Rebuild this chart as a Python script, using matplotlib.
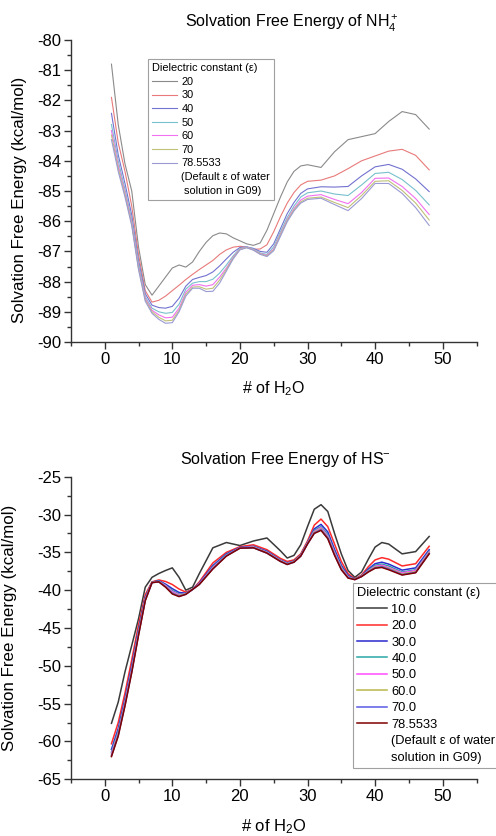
import matplotlib
matplotlib.use('Agg')
import matplotlib.pyplot as plt
from matplotlib.lines import Line2D
from matplotlib.ticker import MultipleLocator

plt.rcParams['font.family'] = ['Liberation Sans', 'DejaVu Sans']
plt.rcParams['mathtext.fontset'] = 'custom'
plt.rcParams['mathtext.rm'] = 'Liberation Sans'
plt.rcParams['mathtext.it'] = 'Liberation Sans:italic'
plt.rcParams['mathtext.bf'] = 'Liberation Sans:bold'
plt.rcParams['axes.unicode_minus'] = False

# ---------------- Top chart: NH4+ ----------------
nh4_x = [1, 2, 3, 4, 5, 6, 7, 8, 9, 10, 11, 12, 13, 14, 15, 16, 17, 18, 19, 20,
         21, 22, 23, 24, 25, 26, 27, 28, 29, 30, 32, 34, 36, 38, 40, 42, 44, 46, 48]
nh4_labels = ['20', '30', '40', '50', '60', '70', '78.5533']
nh4_note = ['(Default \u03b5 of water', ' solution in G09)']
nh4_e20 = [-80.8, -82.8, -84.1, -85.0, -86.85, -88.1, -88.45, -88.15, -87.85, -87.55,
           -87.45, -87.52, -87.35, -87.0, -86.7, -86.48, -86.39, -86.42, -86.55, -86.65,
           -86.75, -86.8, -86.72, -86.3, -85.75, -85.2, -84.7, -84.35, -84.17, -84.13,
           -84.22, -83.7, -83.3, -83.2, -83.1, -82.7, -82.37, -82.47, -82.95]
nh4_e30 = [-81.9, -83.4, -84.35, -85.5, -87.1, -88.3, -88.68, -88.62, -88.48, -88.3,
           -88.12, -87.93, -87.76, -87.6, -87.45, -87.3, -87.1, -86.95, -86.86, -86.83,
           -86.86, -86.93, -86.92, -86.78, -86.35, -85.85, -85.4, -85.05, -84.8, -84.68,
           -84.64, -84.5, -84.26, -84.0, -83.84, -83.68, -83.62, -83.82, -84.3]
nh4_e40 = [-82.43, -83.8, -84.75, -85.8, -87.3, -88.4, -88.78, -88.86, -88.88, -88.82,
           -88.55, -88.15, -87.93, -87.86, -87.8, -87.68, -87.48, -87.25, -87.03, -86.87,
           -86.85, -86.9, -87.0, -87.03, -86.75, -86.25, -85.75, -85.38, -85.08, -84.93,
           -84.86, -84.87, -84.85, -84.5, -84.2, -84.12, -84.28, -84.6, -85.02]
nh4_e50 = [-82.8, -84.0, -84.95, -85.95, -87.4, -88.5, -88.88, -89.0, -89.05, -89.02,
           -88.75, -88.25, -88.05, -88.0, -88.0, -87.92, -87.72, -87.45, -87.15, -86.9,
           -86.85, -86.92, -87.05, -87.1, -86.85, -86.35, -85.88, -85.5, -85.2, -85.06,
           -85.0, -85.1, -85.15, -84.8, -84.42, -84.38, -84.62, -84.98, -85.46]
nh4_e60 = [-83.0, -84.15, -85.05, -86.05, -87.5, -88.55, -88.95, -89.1, -89.2, -89.18,
           -88.88, -88.35, -88.12, -88.1, -88.15, -88.1, -87.85, -87.55, -87.2, -86.92,
           -86.86, -86.94, -87.07, -87.13, -86.92, -86.42, -85.95, -85.58, -85.3, -85.17,
           -85.12, -85.28, -85.42, -85.05, -84.58, -84.57, -84.85, -85.25, -85.78]
nh4_e70 = [-83.15, -84.25, -85.12, -86.1, -87.55, -88.6, -89.0, -89.18, -89.3, -89.28,
           -88.95, -88.42, -88.18, -88.17, -88.25, -88.22, -87.95, -87.6, -87.22, -86.93,
           -86.87, -86.95, -87.08, -87.15, -86.95, -86.45, -85.98, -85.62, -85.36, -85.24,
           -85.2, -85.38, -85.55, -85.15, -84.68, -84.66, -84.98, -85.4, -85.96]
nh4_e785 = [-83.3, -84.35, -85.2, -86.15, -87.6, -88.65, -89.05, -89.25, -89.38, -89.36,
            -89.0, -88.48, -88.22, -88.22, -88.33, -88.32, -88.05, -87.65, -87.25, -86.95,
            -86.88, -86.96, -87.1, -87.17, -86.98, -86.5, -86.02, -85.66, -85.4, -85.28,
            -85.24, -85.45, -85.65, -85.25, -84.75, -84.75, -85.08, -85.55, -86.14]
nh4_series = [nh4_e20, nh4_e30, nh4_e40, nh4_e50, nh4_e60, nh4_e70, nh4_e785]
nh4_colors = ['#8a8a8a', '#e87a7a', '#7272d0', '#78c0cc', '#f070f0', '#c0c07a', '#9a9ad4']

# ---------------- Bottom chart: HS- ----------------
hs_x = [1, 2, 3, 4, 5, 6, 7, 8, 9, 10, 11, 12, 13, 14, 16, 18, 20, 22, 24, 26,
        27, 28, 29, 30, 31, 32, 33, 34, 35, 36, 37, 38, 39, 40, 41, 42, 44, 46, 48]
hs_labels = ['10.0', '20.0', '30.0', '40.0', '50.0', '60.0', '70.0', '78.5533']
hs_note = ['(Default \u03b5 of water', 'solution in G09)']
hs_e10 = [-57.6, -54.8, -50.8, -47.3, -43.8, -39.6, -38.3, -37.8, -37.4, -37.05,
          -38.3, -40.0, -39.6, -37.8, -34.4, -33.7, -34.1, -33.5, -33.1, -34.8,
          -35.75, -35.4, -34.0, -31.6, -29.3, -28.7, -29.6, -32.5, -35.2, -37.4,
          -38.3, -37.6, -35.9, -34.3, -33.7, -33.9, -35.2, -34.9, -32.9]
hs_e20 = [-60.3, -57.5, -53.6, -49.2, -44.6, -40.6, -38.9, -38.65, -38.85, -39.25,
          -39.85, -40.25, -39.9, -38.9, -36.4, -35.0, -34.25, -34.0, -34.65, -35.8,
          -36.2, -36.0, -35.2, -33.5, -31.4, -30.6, -31.6, -33.9, -36.2, -37.8,
          -38.5, -38.0, -36.9, -36.0, -35.7, -35.9, -36.8, -36.5, -34.2]
hs_e30 = [-61.05, -58.3, -54.35, -49.95, -45.25, -40.95, -38.95, -38.75, -39.2, -39.8,
          -40.3, -40.4, -39.9, -39.05, -36.75, -35.2, -34.35, -34.2, -34.85, -36.0,
          -36.4, -36.15, -35.35, -33.7, -31.9, -31.3, -32.3, -34.6, -36.7, -38.05,
          -38.55, -38.1, -37.2, -36.5, -36.3, -36.55, -37.35, -37.05, -34.65]
hs_e40 = [-61.4, -58.65, -54.7, -50.3, -45.5, -41.1, -38.95, -38.8, -39.35, -40.05,
          -40.5, -40.45, -39.9, -39.15, -36.9, -35.3, -34.4, -34.25, -34.95, -36.05,
          -36.45, -36.2, -35.4, -33.75, -32.1, -31.6, -32.65, -34.9, -36.9, -38.2,
          -38.55, -38.15, -37.35, -36.7, -36.55, -36.8, -37.6, -37.3, -34.85]
hs_e50 = [-61.6, -58.9, -54.9, -50.5, -45.7, -41.2, -39.0, -38.85, -39.4, -40.2,
          -40.6, -40.5, -39.9, -39.15, -37.0, -35.4, -34.4, -34.3, -35.0, -36.1,
          -36.5, -36.25, -35.45, -33.8, -32.25, -31.75, -32.85, -35.05, -37.05, -38.25,
          -38.6, -38.15, -37.45, -36.85, -36.7, -37.0, -37.7, -37.4, -34.95]
hs_e60 = [-61.8, -59.05, -55.1, -50.7, -45.8, -41.3, -39.0, -38.87, -39.5, -40.35,
          -40.7, -40.5, -39.9, -39.2, -37.1, -35.45, -34.45, -34.35, -35.05, -36.15,
          -36.55, -36.25, -35.45, -33.85, -32.35, -31.9, -33.0, -35.2, -37.15, -38.3,
          -38.6, -38.15, -37.5, -36.95, -36.85, -37.1, -37.85, -37.55, -35.05]
hs_e70 = [-61.9, -59.2, -55.2, -50.8, -45.9, -41.35, -39.0, -38.9, -39.55, -40.4,
          -40.8, -40.55, -39.9, -39.2, -37.15, -35.45, -34.45, -34.4, -35.1, -36.2,
          -36.6, -36.3, -35.5, -33.9, -32.45, -32.0, -33.1, -35.3, -37.25, -38.35,
          -38.6, -38.2, -37.55, -37.05, -36.9, -37.2, -37.95, -37.65, -35.15]
hs_e785 = [-62.0, -59.3, -55.3, -50.9, -46.0, -41.4, -39.0, -38.9, -39.6, -40.5,
           -40.85, -40.55, -39.9, -39.25, -37.2, -35.5, -34.45, -34.4, -35.1, -36.2,
           -36.6, -36.3, -35.5, -33.9, -32.5, -32.1, -33.2, -35.4, -37.3, -38.4,
           -38.6, -38.2, -37.6, -37.1, -37.0, -37.3, -38.0, -37.7, -35.2]
hs_series = [hs_e10, hs_e20, hs_e30, hs_e40, hs_e50, hs_e60, hs_e70, hs_e785]
hs_colors = ['#3a3a3a', '#ff2a2a', '#2a2ad0', '#2aa5a5', '#ff4cff', '#b8b84a', '#5a5ae6', '#800000']

W, H = 496, 836
fig = plt.figure(figsize=(W / 100, H / 100), dpi=100)


def fx(px):
    return px / W


def fy(py):
    return 1 - py / H


def style_axes(ax, ymaj, ymin):
    ax.spines['top'].set_visible(False)
    ax.spines['right'].set_visible(False)
    for s in ('left', 'bottom'):
        ax.spines[s].set_color('#333333')
        ax.spines[s].set_linewidth(1.0)
    ax.xaxis.set_major_locator(MultipleLocator(10))
    ax.xaxis.set_minor_locator(MultipleLocator(5))
    ax.yaxis.set_major_locator(MultipleLocator(ymaj))
    ax.yaxis.set_minor_locator(MultipleLocator(ymin))
    ax.tick_params(which='major', direction='out', length=5, width=1.0, color='#333333',
                   labelsize=12, pad=2)
    ax.tick_params(which='minor', direction='out', length=3, width=1.0, color='#333333')
    ax.set_xlim(-5, 55)


def make_legend(ax, lines, labels, note, anchor, fs, lspace):
    blank = [Line2D([], [], color='none') for _ in note]
    leg = ax.legend(lines + blank, labels + note, loc='upper left',
                    bbox_to_anchor=anchor, bbox_transform=fig.transFigure,
                    borderaxespad=0, title='Dielectric constant (\u03b5)',
                    title_fontsize=fs, fontsize=fs, frameon=True, fancybox=False,
                    edgecolor='#888888', handlelength=2.3, handletextpad=0.35,
                    labelspacing=lspace, borderpad=0.35, alignment='left')
    leg.get_frame().set_linewidth(0.8)
    return leg


# Top axes
ax1 = fig.add_axes([fx(70.9), fy(342), fx(476.5) - fx(70.9), fy(40) - fy(342)])
lines1 = []
for ys, c, lab in zip(nh4_series, nh4_colors, nh4_labels):
    ln, = ax1.plot(nh4_x, ys, color=c, lw=0.8, label=lab)
    lines1.append(ln)
style_axes(ax1, 1, 0.5)
ax1.set_ylim(-90, -80)
ax1.set_title('Solvation Free Energy of NH$_4^+$', fontsize=11.5, x=0.545, pad=9)
ax1.set_xlabel('# of H$_2$O', fontsize=11.5)
ax1.set_ylabel('Solvation Free Energy (kcal/mol)', fontsize=12.2)
ax1.xaxis.set_label_coords(0.5, -0.125)
ax1.yaxis.set_label_coords(-0.108, 0.47)
make_legend(ax1, lines1, nh4_labels, nh4_note, (fx(148.3), fy(59.3)), 7.9, 0.33)

# Bottom axes
ax2 = fig.add_axes([fx(70.9), fy(779.3), fx(476.5) - fx(70.9), fy(476.7) - fy(779.3)])
lines2 = []
for ys, c, lab in zip(hs_series, hs_colors, hs_labels):
    ln, = ax2.plot(hs_x, ys, color=c, lw=1.1, label=lab)
    lines2.append(ln)
style_axes(ax2, 5, 2.5)
ax2.set_ylim(-65, -25)
ax2.set_title('Solvation Free Energy of HS$^{-}$', fontsize=11.5, x=0.528, pad=9)
ax2.set_xlabel('# of H$_2$O', fontsize=12)
ax2.set_ylabel('Solvation Free Energy (kcal/mol)', fontsize=12.2)
ax2.xaxis.set_label_coords(0.5, -0.125)
ax2.yaxis.set_label_coords(-0.133, 0.5)
make_legend(ax2, lines2, hs_labels, hs_note, (fx(352.7), fy(582.7)), 9.3, 0.34)

fig.savefig('out.png', dpi=100)
